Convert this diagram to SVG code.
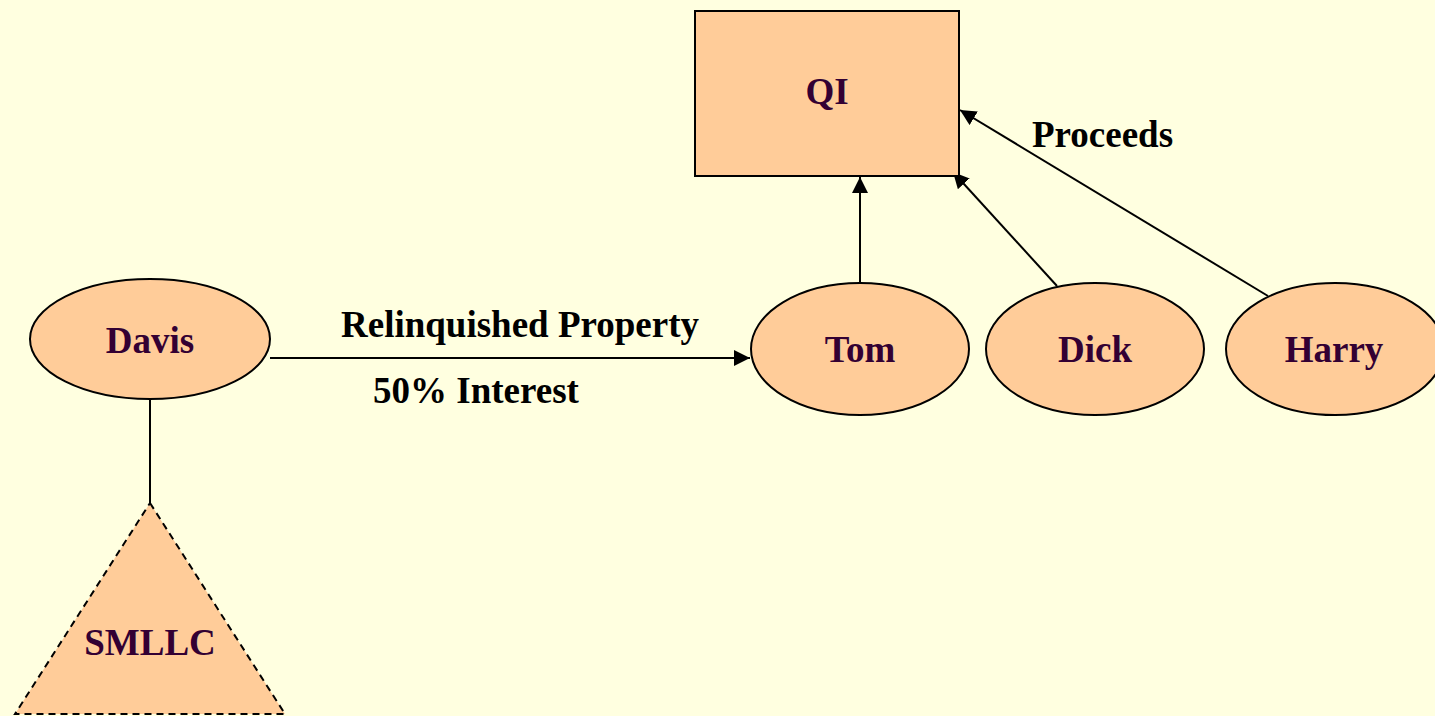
<svg xmlns="http://www.w3.org/2000/svg" width="1435" height="716" viewBox="0 0 1435 716">
  <defs>
    <style>
      .shape { fill: #FFCC99; stroke: #000; stroke-width: 2; }
      .dashed { stroke-dasharray: 7 5; }
      .name { font-family: "Liberation Serif", "Times New Roman", serif; font-weight: bold; font-size: 37px; fill: #330033; text-anchor: middle; }
      .label { font-family: "Liberation Serif", "Times New Roman", serif; font-weight: bold; font-size: 37px; fill: #000; }
      .link { stroke: #000; stroke-width: 2; fill: none; }
    </style>
    <marker id="head" viewBox="0 0 10 10" refX="10" refY="5" markerWidth="16" markerHeight="16" markerUnits="userSpaceOnUse" orient="auto">
      <path d="M0,0 L10,5 L0,10 z" fill="#000"/>
    </marker>
  </defs>
  <rect width="1435" height="716" fill="#FFFFE0"/>

  <!-- connectors -->
  <g id="connectors">
    <line class="link" x1="150" y1="399" x2="150" y2="503"/>
    <line class="link" x1="270" y1="358" x2="750" y2="358" marker-end="url(#head)"/>
    <line class="link" x1="860" y1="283" x2="860" y2="177" marker-end="url(#head)"/>
    <line class="link" x1="1057" y1="286" x2="953" y2="172" marker-end="url(#head)"/>
    <line class="link" x1="1268" y1="296" x2="960" y2="110" marker-end="url(#head)"/>
  </g>

  <!-- edge labels -->
  <g id="labels">
    <text class="label" x="341" y="337">Relinquished Property</text>
    <text class="label" x="373" y="403">50% Interest</text>
    <text class="label" x="1032" y="147">Proceeds</text>
  </g>

  <g id="qi">
    <rect class="shape" x="695" y="11" width="264" height="165"/>
    <text class="name" x="827" y="104">QI</text>
  </g>
  <g id="davis">
    <ellipse class="shape" cx="150" cy="339" rx="120" ry="60"/>
    <text class="name" x="150" y="353">Davis</text>
  </g>
  <g id="tom">
    <ellipse class="shape" cx="860" cy="349" rx="109" ry="66"/>
    <text class="name" x="860" y="362">Tom</text>
  </g>
  <g id="dick">
    <ellipse class="shape" cx="1095" cy="349" rx="109" ry="66"/>
    <text class="name" x="1095" y="362">Dick</text>
  </g>
  <g id="harry">
    <ellipse class="shape" cx="1335" cy="349" rx="109" ry="66"/>
    <text class="name" x="1334" y="362">Harry</text>
  </g>
  <g id="smllc">
    <polygon class="shape dashed" points="150,503 285,714 15,714"/>
    <text class="name" x="150" y="655">SMLLC</text>
  </g>
</svg>
